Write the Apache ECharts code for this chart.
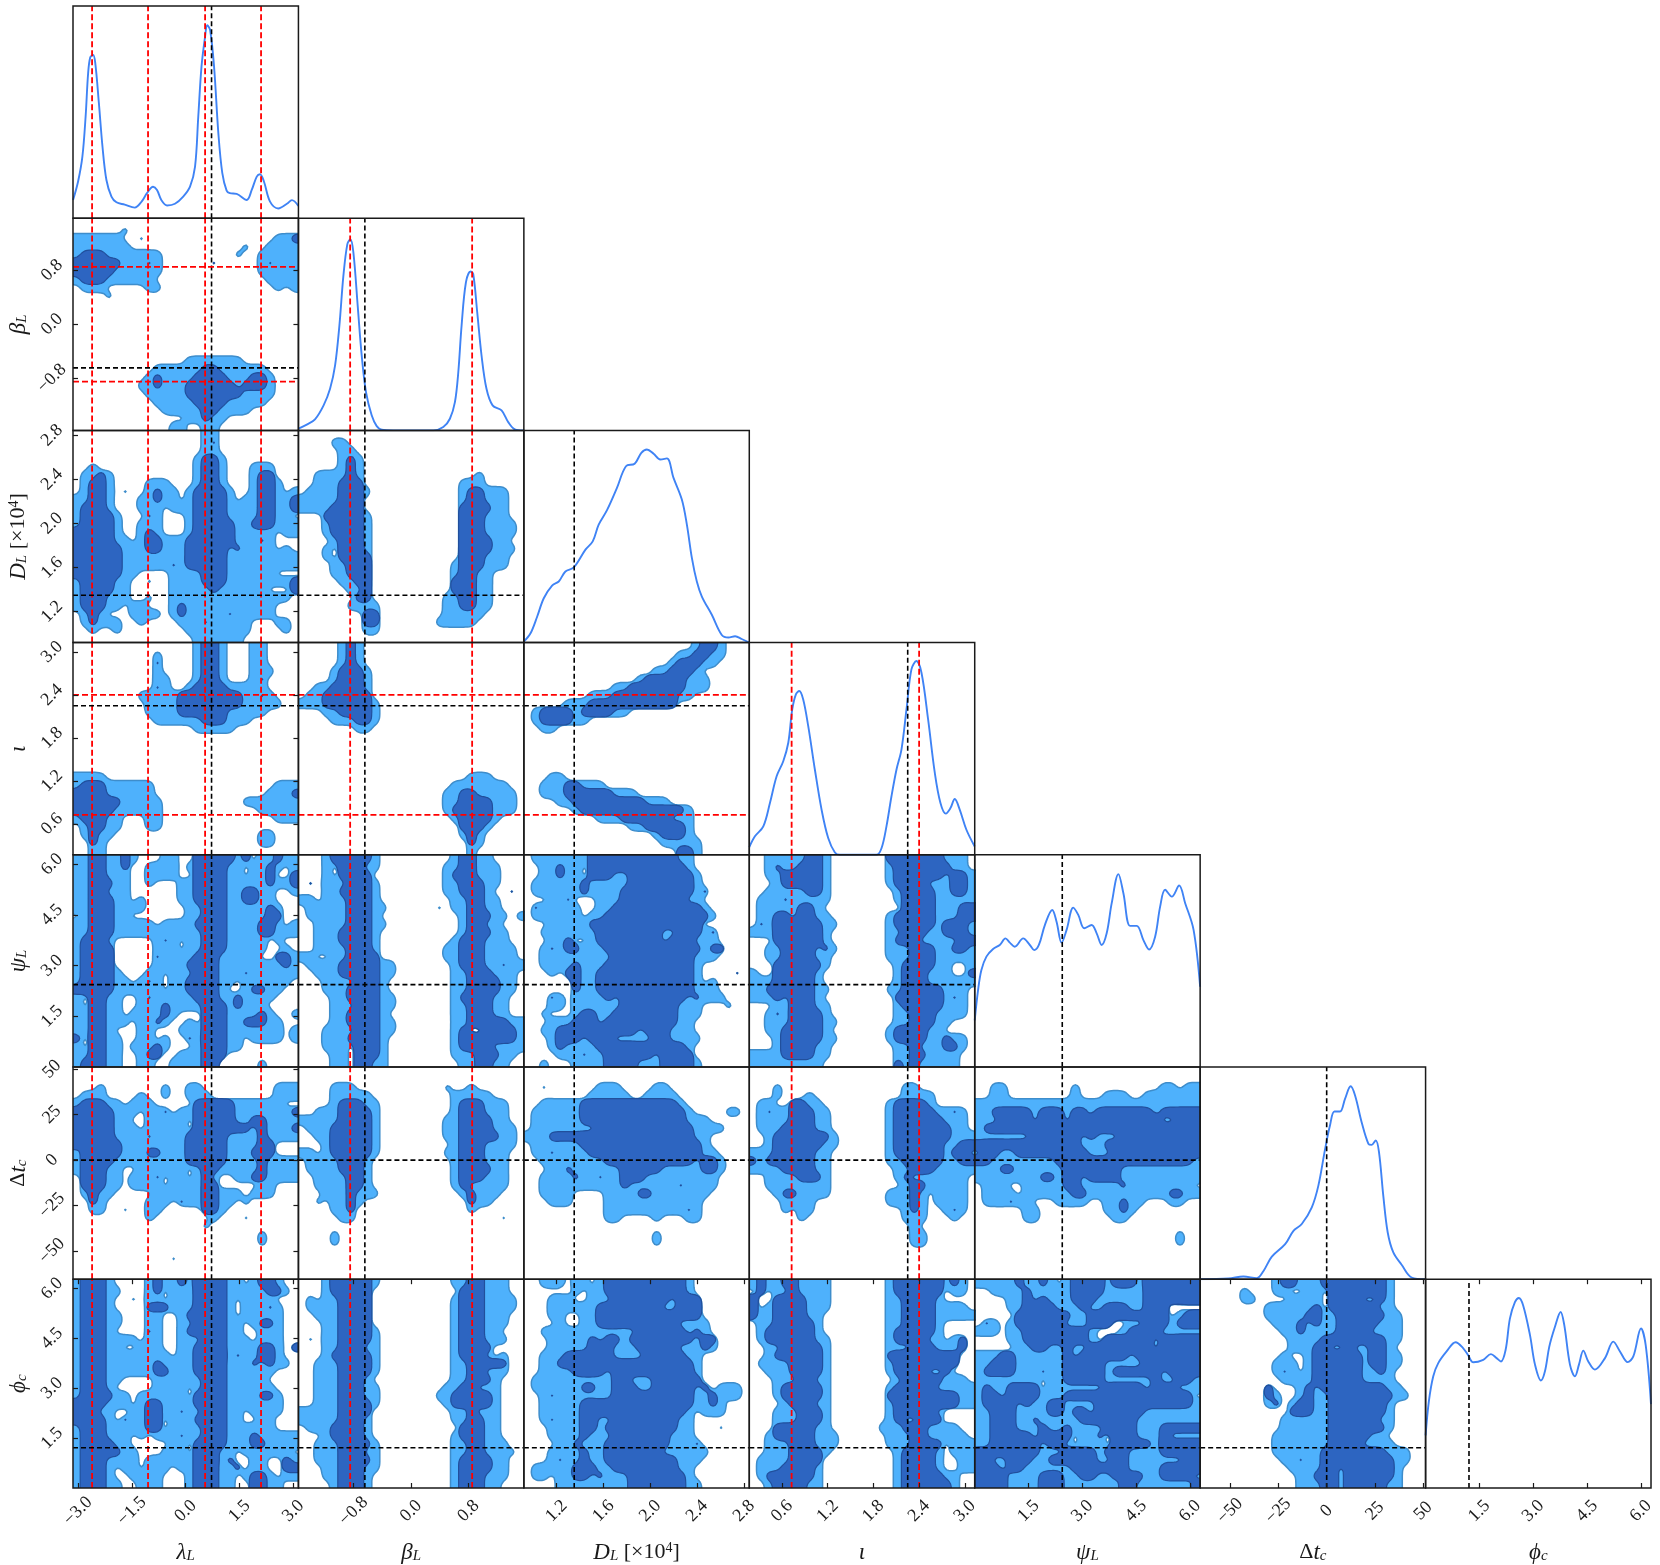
<!DOCTYPE html>
<html><head><meta charset="utf-8">
<style>html,body{margin:0;padding:0;background:#fff}#c{width:1660px;height:1565px}</style>
<script src="https://cdn.jsdelivr.net/npm/echarts@6/dist/echarts.min.js"></script>
</head><body><div id="c"></div>
<script>
// ---------- parameters ----------
const paramRanges = [[-3.1416,3.1416],[-1.5708,1.5708],[0.92,2.845],[0.17,3.13],[0,6.2832],[-65.5,51.2],[0,6.2832]];
const tickValues = [[-3,-1.5,0,1.5,3],[-0.8,0,0.8],[1.2,1.6,2.0,2.4,2.8],[0.6,1.2,1.8,2.4,3.0],[1.5,3,4.5,6],[-50,-25,0,25,50],[1.5,3,4.5,6]];
const tickDecimals = [1,1,1,1,1,0,1];
const axisTitles = ['{i|λ}{s|L}','{i|β}{s|L}','{i|D}{s|L}{r| [×10}{u|4}{r|]}','{i|ι}','{i|ψ}{s|L}','{r|Δ}{i|t}{s|c}','{i|ϕ}{s|c}'];
const redTruth = [[-2.61,-1.05,0.54,2.1],[-0.85,0.85],[],[0.726,2.40],[],[],[]];
const blackTruth = [0.72,-0.645,1.35,2.25,2.44,0,1.21];

// ---------- 1D marginals ----------
const lambdaX = [-3.14,-3.00,-2.88,-2.79,-2.72,-2.66,-2.58,-2.52,-2.42,-2.32,-2.21,-2.07,-1.93,-1.70,-1.42,-1.23,-1.08,-0.91,-0.80,-0.68,-0.52,-0.30,-0.07,0.12,0.26,0.35,0.44,0.54,0.60,0.68,0.79,0.91,1.02,1.14,1.23,1.42,1.70,1.84,1.98,2.07,2.18,2.35,2.58,2.82,2.96,3.14];
const lambdaP = [.086,.173,.29,.479,.683,.758,.769,.73,.542,.338,.18,.102,.075,.064,.05,.078,.118,.148,.133,.086,.06,.068,.102,.149,.243,.479,.714,.856,.909,.887,.714,.40,.212,.13,.118,.115,.086,.133,.196,.207,.173,.078,.046,.068,.085,.058];
const betaX = [-1.57,-1.455,-1.34,-1.22,-1.13,-1.06,-1.0,-.944,-.889,-.847,-.805,-.745,-.689,-.629,-.55,-.48,-.41,-.25,.31,.448,.54,.61,.657,.703,.763,.828,.865,.921,.981,1.05,1.135,1.26,1.353,1.445,1.57];
const betaP = [.008,.027,.052,.118,.196,.306,.494,.729,.878,.901,.839,.588,.353,.18,.071,.02,.003,0,0,.016,.055,.133,.274,.494,.697,.749,.737,.556,.353,.196,.118,.094,.039,.005,0];
const distX = [.92,.977,1.034,1.09,1.161,1.218,1.275,1.346,1.446,1.508,1.559,1.63,1.715,1.792,1.866,1.923,1.971,2.028,2.085,2.142,2.198,2.269,2.312,2.355,2.397,2.44,2.525,2.61,2.667,2.724,2.78,2.845];
const distP = [.005,.044,.123,.209,.269,.288,.335,.354,.438,.477,.556,.624,.729,.831,.843,.894,.91,.89,.863,.868,.776,.674,.556,.398,.288,.217,.131,.036,.024,.03,.017,0];
const iotaX = [.17,.244,.354,.441,.529,.616,.682,.734,.782,.826,.878,.944,1.031,1.119,1.206,1.294,1.359,1.84,1.906,1.971,2.037,2.103,2.168,2.234,2.299,2.365,2.431,2.518,2.606,2.68,2.75,2.811,2.868,2.933,3.021,3.13];
const iotaP = [.036,.087,.134,.244,.37,.441,.528,.685,.756,.772,.732,.606,.402,.213,.079,.011,0,0,.031,.134,.276,.402,.496,.685,.874,.913,.858,.638,.386,.244,.194,.22,.263,.213,.118,.039];
const psiX = [0,.093,.186,.326,.512,.698,.857,.978,1.117,1.35,1.536,1.657,1.788,1.955,2.16,2.281,2.421,2.56,2.747,2.886,3.054,3.259,3.399,3.538,3.678,3.818,4.004,4.144,4.33,4.516,4.702,4.86,5.028,5.168,5.307,5.493,5.698,5.866,6.1,6.283];
const psiP = [.22,.362,.457,.52,.556,.575,.606,.586,.567,.606,.575,.551,.575,.669,.74,.685,.586,.646,.751,.717,.654,.669,.63,.575,.63,.772,.909,.819,.665,.665,.598,.554,.614,.756,.835,.803,.855,.772,.646,.378];
const dtX = [-65.5,-50.8,-43.1,-36.2,-32.7,-28.4,-21.5,-17.2,-12.9,-7.7,-4.3,-0.8,1.7,4,6.9,9.5,12.4,14.7,18.1,21.6,23.3,25.4,27.1,29.3,31.6,34.5,38.8,44,51.2];
const dtP = [0,.003,.013,.005,.039,.106,.165,.228,.26,.339,.441,.614,.724,.79,.79,.85,.909,.866,.74,.638,.633,.654,.598,.394,.22,.126,.068,.008,0];
const phiX = [0,.093,.214,.353,.586,.836,1.05,1.19,1.33,1.608,1.822,1.98,2.1,2.23,2.35,2.49,2.6,2.72,2.91,3.05,3.216,3.327,3.448,3.606,3.764,3.866,4.024,4.163,4.275,4.396,4.535,4.721,5.0,5.232,5.418,5.632,5.79,6.004,6.134,6.283];
const phiP = [.252,.417,.535,.598,.654,.698,.669,.635,.602,.614,.641,.622,.606,.661,.811,.89,.91,.874,.732,.591,.515,.559,.677,.772,.843,.78,.591,.535,.591,.658,.606,.567,.622,.701,.654,.603,.63,.764,.685,.402];
const marginals = [[lambdaX,lambdaP],[betaX,betaP],[distX,distP],[iotaX,iotaP],[psiX,psiP],[dtX,dtP],[phiX,phiP]];

// ---------- 2D credible-level maps: rows top to bottom, 28 cells wide.
// o = inside outer level, # = inside inner level, . = outside; tokens apply in order.
const betaLambda = ["","o6","o0-5 o8 o25-26 #27","o0-6 o21 o24-27","o0-10 #1-3 o20 o23-27","o0-10 #0-5 #9 #17 o23-27 #24","o0-10 #0-4 o23-27","o0-9 #1-3 o24-27","o1-3 o9-10 o25 o27","o4","","","","","","","","o14-20","o10-23 #16-17","o9-24 #10 #15-18 #22-23","o8-24 #10 #14-19 #21-23","o9-24 #14-19 #20","o10-23 #15-18","o11-21 #16-17","o14-18 #16","o12-13 o16-17"];
const distLambda = ["o16-17","o16-17 #17","o16-17","o15-18 #16-17","o2 o15-18 #16-17 o22-24","o1-4 #3 o15-18 #16-17 o22-24 #23-24","o1-4 #2-3 o9-11 o15-18 #16-17 o22-25 #23-24","o1-4 #2-3 o6 o9-12 #10 o14-19 #15-18 o22-25 #23-24 o27","o0-4 #2-3 o8-12 #10 o14-19 #15-18 o21-25 #23-24 o26 #27","o0-4 #1-3 o8-25 .11 #15-18 #23-24 o26 #27","o0-5 #1-4 o9-10 #9 o14-26 .24 #15-18 #23-24","o0-5 #1-4 o8-10 o14-27 #15-19 #22-24","o0-5 #0-4 o8-10 #9 o14-24 #15-19 o26-27","o0-6 #0-4 o8-24 #9-10 #14-18 #19 #23","o0-24 #0-5 #9-10 #14-18 #20 .21 o26","o0-27 #0-5 #14-18","o0-27 #0-5 #12 #14-18","o0-7 #0-5 o12-24 #16-18 .19","o0-6 #1-4 o9 o12-26 #16-18 #27","o0-6 #1-4 o12-23 #17 #27","o0-6 #1-3 o9 o12-26","o0-5 #1-3 o7-8 o12-24 #13","o1-3 #2 o7-10 o12-24 #13 #19","o1-5 #2 o8 o13-21 #16 o25-26","o2 o5 o14-21 o26","o15-20"];
const distBeta = ["","o4-5","o5-6","o5-7 #6","o5-7 #6","o2-7 #6 o22","o2-7 #5-7 o20-22","o1-8 #5-7 o20-25 #21-22","o0-7 #5-7 o20-25 #21-22","o0-7 #4-7 o20-25 #20-22 #23","o3-8 #3-7 o20-25 #20-22 .24","o3-8 #4-7 o20-26 #20-22","o3-8 #4-7 o20-26 #20-22","o4-8 #5-7 o20-25 #20-23","o3 o5-8 #5-7 o20-26 #20-23","o3 o5-8 #5-8 o20-25 #20-22","o4-8 #6-8 o19-25 #20-22","o4-8 #6-8 o19-23 #20-21","o5-8 #7-8 o19-23 #19-21","o6-8 #8 o19-23 #19-21","o7-8 #7-8 o18-23 #20-21","o6-9 o18-23 #20-21","o8-9 #8-9 o18-22","o8-9 #8-9 o17-21","o8-9",""];
const iotaLambda = ["o15-18 #16-17 o22-23","o15-18 #16-17 o10 o22-23","o10 #10 o15-18 #16-17 o22-23","o10 o15-18 #16-17 o22-24","o10-11 o15-18 #16-17 o22-23 #23","o10-11 #10 o14-21 #15-18 o22-23","o8-24 #13-20 #23","o9-25 #13-20","o9-23 #13-18","o10-21 #16-18","o15-19","","","","","","o0-3","o0-9 #1-3 o25-27","o0-9 #0-3 o24-27 #27","o0-10 #0-5 .8 o21-27","o0-10 #0-4 o23-27","o0-5 #1-3 o9-10 o25-27","o1-5 #2-3 o9-10","o1-4 #2 o23-24","o2-3 #2 o23-24","o2-3"];
const iotaBeta = ["o5-7 #6","o5-7 #6","o5-7 #6","o4-8 #5-7","o4-8 #5-7","o2-8 #4-7","o1-8 #3-8","o0-9 #3-8","o3-9 #5-8","o4-9 #7-8","o7-8","","","","","","o21-23","o19-25","o18-26 #20-21","o18-26 #20-23","o18-26 #19-23","o19-24 #20-23","o20-23 #20-22","o20-22 #21","o21-22 #21","o21"];
const iotaDist = ["o21-24 #22-23","o19-24 #21-22","o18-23 #19-21","o16-21 #18-20","o14-22 #15-19","o11-22 #13-19","o8-20 #11-18","o5-18 #8-18","o1-12 #2-5 #7-10","o1-7 #2-5","o2-3","","","","","","o3-4","o2-9 #5-6","o2-13 #5-10","o4-17 #6-14","o6-20 #7-17 #18-19","o9-20 #12-17","o13-20 #15-19","o16-20 #17-19","o17-21","o19-21 #19-20"];
const psiLambda = ["oo##oo#o...oo..#####o#.oo#ooo","oo##oo#..oooo.o####oo.oo#o.o","oo##ooo..oooo..####oo.oo#..#","oo###oo..o...oo####.oooo#oo#","oo##ooo......oo####oo##oo..o","o.###oo.o....oo####oo##oo...","oo###o.oo.....oo###ooooo#o..",".o###oo.......oo###oo.oo##..","oo###ooooo.oooo####o.oo##o.o","oo###ooooooooooo###oooo##.oo","o###o.....o#o.oo###o.ooo.o..","o####.....o.o.oo###.oooo..o.","o####.....#oooo###ooooo..##o","o####.....oooo####ooooooo.#o","o####o...oo.ooo###ooo#oooooo","o####oo.o#o.oo####oo.oo.ooo.","#####oooooo.oo####o..o##oo..","o.##oo..o#oooo.###oo#oo.o...","o.##oo..ooo#oooo###o#ooo....","oo##oo.oooo#o...###oooo#o..o","oo##ooo.oo#o..o.###oo###oo..","oo##o...oo...ooo###o.ooooo.o","#.##oo..oo.o..#o###oo.oooo.o","o.##oo.ooo#o...o###oo.......","oo##oo..o##..ooo###.........","o###oo..oo..oooo##.....o...."];
const psiBeta = ["...o#####o.........o##oo....","...o.###oo........oo##ooo...","...o.####.........o###ooo...",".#.oo.###o........oo###oo...","...oo####o........oo###o..#.","oo.ooo###o.........oo##oo...",".oo.oo###oo......o.oo##oo...",".o.ooo###o..........o###oo.o","..oooo###oo.........o##oo...","..ooo####o..........o###oo..","..ooo####o.........o###ooo..","..oooo###o........oo###oooo.","oo..oo####........oo###o.oo.",".oooo#####oo.......o###oo#oo","..ooo#####oo.......oo###ooo.","...oooo###o........oo####oo.","...ooo####o........oo####oo.","....oo####oo.......o####oo..","....oo.###oo.......oo###oo..","....oo####o........oo###oo..","....oo####oo.......o.#####oo","...ooo.###oo.......o#..####o","...ooo####o........o###.###o","...ooo.###o........o####oooo","....oo.###o........oo.###oo.","....oo.##oo.........oo##oo.."];
const psiDist = ["o1-6 #8-18 o7 o19-20","o2-6 #4 o8-20 #8-11 #12-19","o2-6 #4 .5 o6 o8-21 #8-10 #13-20","o1-6 #7 o8-21 #13-20","o1-6 #7 o8-22 #12-20 #22","o3-5 #5 o9-21 #12-19","o1-2 #1 o4-6 o9-22 #11-21","o1-3 o5-6 o8-23 #10-22","o3-7 #8-16 o17-21 #17-21","o2-7 o8-23 #9-16 #19-21 #23","o3-5 #5 o8-23 #9-15 #16 #18-20","o2-6 #3 #5-6 o7-24 #10-21 #23-24","o2-5 o6-23 #11-20","o2-4 o5-21 #6 #10-20","o3 o5-21 #5-6 #9-20 #26","o6-21 #6 #9-20 o23","o6-22 #6 #9-12 #14-20 o23","o3-4 #3 o6-24 #10 #12-14 #15-19 #21","o3-4 o6-21 #12-14 #15-18 .20 o25","o2 o6-21 #7-8 #11-13 #14-18","o3-20 #6-8 #10-13 #14-18","o2-20 #4-6 #7-9 #10-13 #15-17","o3-21 #4-6 #8-10 #16-17","o3-20 #4 #9-14 #15-19","o4-20 #7 #10-14 #15 #17-20","o2 o6-21 #10-13 #17-20"];
const psiIota = ["o2-9 #7-8 o17-26 #17-23","o2-9 #3 #6-8 o17-26 #18-24","o2-9 #4-8 o17-27 #18-23 #25-26","o3-9 #4-5 #6-8 o17-27 #18-21 #25-26","o2-9 #7-8 o18-27 #19-22 #25-26","o1-9 #4 o18-27 #19-22","o1-8 #6-7 o19-27 #19-22 #26-27","o1-9 #3-4 #6-7 o17-27 #18 #20-22 #26-27","o1 #1 o3-10 #3-8 o17-27 #18 #19-22 #24-26","o0-2 o3-9 #3-8 o17-27 #19-21 #24-26","o3-9 #3-8 o17-27 #18-20 #26-27","o2-10 #4-7 #9 o17-27 #20-22 #25-26","o2-9 #4 #6-7 o17-24 #20-22 o25-27","o3-9 #3-8 o18-24 #19-22 o27","o0 o3-8 #3-7 o18-24 #19-21 #27","o0-1 o2-8 #3-7 o18-24 #19-21 o25-27","o0-1 o2-9 #2-7 o17-24 #19-23 o25-26","o0-1 o2-8 #3 #5-7 o18-24 #18-23 o25-26 #25","o3-9 #5-7 o18-24 #19-23 o25-26","o2-9 #3 #5-8 o18-24 #20-22 o25-26","o2-10 #5-8 o18-24 #20-22","o2-9 #4-8 o17-23 #18-21","o3-10 #4-8 o17-23 #18-21 o24-26 #24","o3-9 #4-7 o18-23 #20 o24-26 #24-25","#1 o0-2 o4-9 #4-7 o18-24 #20-21 o24-25","#1 o0-2 #4-7 o3-8 o18-24 #18 #20 o24-25"];
const dtLambda = ["","","o3 o11 o14-15 o25-27","o1-3 o8 o11 o14-16 o25-27","o0-5 #1-3 o7-8 o9 o15-25 #15-19","o0-7 #0-4 o9-11 #11 o13-27 #15-19 #27","o0-6 #0-4 o9-13 o15-27 #15-19 #22-23","o0-7 #0-4 o9-13 o15-27 #15-21 #23 #27","o0-27 #0-4 #9 #14-18 #23","o0-27 #0 #2-5 #14-18 #23-24 .25-27","o0-24 #1-5 #9-10 #14-18 #22-24","o0-27 #1-4 #14-18 #23","o0-5 o8-27 #1-3 .12 .14 #16-17 #23","o1-5 #1-3 o7-27 #10 .11 .14 #16 .18-19 #22-23","o1-5 #1-3 o7-10 o12-17 #16-17 #23 o23-24","o1-4 #2 o10-12 o13-19 #16-17 o19-20 o22-24","o2-3 #2 o9-11 o13-19 #13 #16-17 o21","o2-3 o6 o9-10 o16-18 #16-17","o9 o17 o21","o16","o23","o23","","o12","",""];
const dtBeta = ["","","o4-6 o18 o21","o4-8 o19-23","o4-9 #5-7 o19-25 #20-22","o2 o3-9 #5-8 o19-25 #20-22","o0-1 o3-9 #5-8 o18-25 #20-23","o1-9 #4-8 o18-26 #20-23","o2-9 #4-8 o18-26 #20-24","o3-9 #4-8 o19-26 #20-22 .24","o0-1 o3-9 #4-8 o18-25 #20-22","o1-8 #5-7 o19-25 #20-22","o1-2 o4-8 #5-7 o19-25 #20-23 .24","o2-8 #6-7 o19-25 #20-22","o2-8 #6-7 o19-25 #20","o3-9 #6 o20-24 #21","o2 o4-7 #6 o21-23 #21","o4-6 #6 o21","o5-6 o25","","o4","o4","","","",""];
const dtDist = ["","","o2 o9-11 o16-17","o8-12 o15-18","o2-19 #7-18","o1-20 #7-19 o25-26","o1-22 #7-19","o1-24 #9-20","o0-22 #3-20","o1-22 #7-20 #21","o1-23 #8-21 #3","o2-24 #10-11 #12-20 #22-23","o3-24 #5 #12-16 #22-23","o2-23 #6 #9 #12-14","o2-3 o5-23 #12 #19 .11","o2-5 o10-22 #14-15 .12 .17","o3-5 o10-21","o10-21 #20","o10-11 o20-21 o16","","o16","o16","","","",""];
const dtIota = ["","","o3 o19-20","o3 o7 o19-22","o1-2 o5-8 #5-6 o17-22 #18-21","o1-9 #2 #5-7 o17-26 #18-22 #25","o1-9 #5-7 o17-26 #18-23","o1-9 #4-7 o17-26 #18-24","o2-10 #3-9 o17-27 #18-24","o2-10 #3-8 o17-27 #18-23 #26-27","o0-9 #3-7 o17-27 #18-23 #25-26","o0-9 #0 #2-7 o17-23 o24-27 #19-23 #26-27","o0-1 o3-9 #4-7 o18-23 o25-27 #20-22","o2-9 #6-8 o18-24 o25-26 #19","o2-9 o19-22 #20-21 o24-26","o3-9 #4-5 o17-21 #20 o23-26","o4-7 o17-21 #20 o23-26","o4 o6 o7 o19-21 #20 o24-26 #25","o6 o19-21 o25","o20","o20-21","o20-21","","","",""];
const dtPsi = ["","","o2-3 o12 o23-24 o26-27","o2-3 o12 o16-18 o21-27","o0-27","o0-1 #2-6 o7 #8-10 o11 #12-13 o14 #15-21 o22 #23-27","o0-2 #3-6 o7 #8-10 o11 #12 o13 #14-27 o23-24","o0 #1-6 o7 #7-11 #12 #13-27","o0 o1-6 #7-12 o13 #14-27 o15-17","#0-7 #8-12 o13-15 #16-17 #18-27","o0 #1-2 o3-4 #5-6 #7-9 #10-13 o14-16 #17-27","#0-1 o2-9 #10-13 #14-26 o27","o0-10 #3-4 #11-12 #13-17 .18 o19-27","o0-10 #8-9 #11-12 #14-17 o18-27","o1-3 .4-5 o6-12 #11-12 o13-20 #18 o21-26","o1-4 o6-9 o10-27 #12-13 #24-25","o1-2 o3-4 #4 o5-6 o10-13 o16-20 #18 o24-25","o6-7 o16-19 #18","o6-7 o17-18","","o25","o25","","","",""];
const phiLambda = ["o###o....o#oo#o####oo.o##o..","o###oo...o#.oo.####ooo.o##o.","o###o..o.oo.ooo####o.oooo...","o###o....###ooo####o.ooo#o..","o###oo...oo..o#####o.ooooo..","o###oo...oo..o.####oo.o##o..","o###o....#o..o#####oo..ooo..","o###oooo.oo..ooo###o.o.ooo..","o###oo..ooo..oo####oo.o##o.#","o###oooooooo.oo####o#oo##o..","o###oooooo#oooo####ooo#.#oo.","o###oooooo##ooo####o.oooo...","o###oo....oooooo###oo.oo....","o###o.....oooo.o###.oo.oo...","o####oo.ooo.oo.####oooo##o..","####ooo.o##o.oo####o.oo.oo..","###oo..oo##oo#oo###oo.oo.o..","####o.#.o##.ooo####.o..oo...","o###ooooo##.oooo###o.oooo...","o###ooo.o.ooo#oo###oo.#ooooo","o####oo.....oo.####ooo##oooo","o#####oo...ooo.###oo.o.oooo.","o###oooo.oo.ooo###o#..oo..#o","o###o.oo.ooo.o.###oo#.oo..##","o###o..oooo...o###oo.o##o.oo","o###oo..ooo...o###oo..##oo.."];
const phiBeta = ["o3-9 #4-8 o19-25 #21-22","o3-8 #4-8 o20-25 #20-22","o1 o3-8 #5-8 o19-24 #20-22 o25-26","o1-2 o3-8 #5-8 o19-23 #20-22 o24-26","o2 o3-8 #5-8 o19-25 #20-22","o3-8 #5-8 o19-25 #20-22","o3-9 #5-8 o19-24 #20-22","o1 o3-9 #5-8 o19-24 #20-22 o25","o3-9 #5-7 o19-23 #20-23","o3-9 #4-8 o19-23 #20-22 o25","o2-9 #5-8 o19-25 #21-23 #24-25","o2-9 #5-8 o19-24 #21-22 o25","o2-8 #5-7 o19-24 #21-23","o2-9 #5-7 o18-24 #20-21","o2-9 #5-7 o17-24 #19-23","o2-9 #5-8 o18-24 #19-20 #22-23","o0-1 o2-8 #5-8 o19-24 #21","o0-8 #5-7 o19-24 #21-22","o1-8 #4-7 o20-24 #20-22","o3-8 #4-7 o19-24 #20-22","o2-9 #5-8 o19-25 #21-22","o2-9 .3 #5-7 o19-26 #21-22 .25","o2-9 #5-7 #8 o19-25 #20-23","o3-9 #5-7 o19-25 #20-23","o3-8 #5-7 o19-25 #20-22","o4-8 #5-7 o19-24 #20-22"];
const phiDist = ["o2-4 o6-7 o9-20 #10-19","o6 o8-20 #10-19","o3-5 o8-20 #11-17 .18 #19-21","o3-5 o6-21 #9-11 #12-16 #19-21","o3-4 o7-21 #9-15 #16-18 #19-21","o4 o7-22 #9-14 #15-18","o2-6 o8-22 #14-19 #21","o3-5 o7-23 #8 #10-11 #13-20 #22-23","o3-6 o7-23 #8-9 #10 #14-18 #22","o2-21 #5-8 #8-10 #15-19","o2-21 #4-6 #6-10 #11-20","o2-21 #6-9 #11-20","o1-21 #11-12 #16-21 .5","o1-21 #7-8 #11-13 #16-20 o22 #22 o24-26","o2-21 #3 #11-14 #15-20 o22-23 #23 o25-26","o2-21 #7-9 #10-20 o22-24 #23","o2-20 #7-10 #11-19 o22-24","o2-20 #3 #7-8 #11-14 #15-18","o3-20 #7-8 #10-18 o24","o3-20 #7 #11-17","o4-21 #6 #10-17 #21","o3-22 #7 #10-16","o3-21 #4 #7 #10-18","o1-2 o3-20 #6-8 #11-18","o1-2 o4-20 #6-7 #9 #13-19","o4-21 #13-19"];
const phiIota = ["o0-2 #1 o3-9 #4-5 o17-26 #18-23 #25","#1 o3-9 #5 o17-23 #18-23 o25-26","#0 o3-9 #3-4 #5-6 o17-23 #19-22","#0 o2-9 #3-4 #5-6 o17-24 #19-22 o25-26","#0 o1-8 #3-4 #5-6 o17-24 #19-22 o25-27","o1-8 #3 #5-7 o17-23 #19-22","o1-8 #2-4 #5-7 o17-23 #18 #20-22","o1-9 #2-5 #5-7 o17-22 #18-19 #21 o23 o25-26 #26","o2-9 #4 #5-8 o17-26 #20-22 #26","o2-9 #3-5 #5-8 o17-25 #17-23 #24-25","o1-9 #5-8 o17-24 #18-23 o25 #25","o2-9 #5-8 o17-24 #18-21 #24","o3-9 #6-7 o18-26 #19-21 #22-23","o3-9 #4-8 o17-27 #18 .19 #20-22","o3-9 #4-8 o17-27 #17-19 #20-25","o4-9 #5-7 o17-27 #18-20 #21-25","o3-9 #6-8 o17-23 #18-22","o3-9 #6-8 o17-22 #18 #21-23","o3-9 #3-5 #6-7 o16-22 #19-21 o24-25","o2-10 #3-5 #6-7 o17-23 #20-21 o24-26","o2-10 #5-7 o17-23 #20-23 o25-27","o2-9 #5-8 o18-23 #19-22 o25-27","o1-8 .3 #5-8 o18-23 #19-22 o26-27","o1-8 #4-7 o18-23 #19-20 #21-22 o26-27","o1-8 #2-7 o18-25 #19-20 #21-23","o2-8 #3-6 o18-25 #19-21 #21-24"];
const phiPsi = ["o0-27 #5 #8 .10 #12-15 #17-19 #21-27","o2-27 #6 #12-15 .17 #21-27","o4-27 #6 #8 #12-14 .16 #21-22 .23 #24-27","o4-27 #6-9 #13 #16-18 #21-23 .24-27","o5-27 #5-8 #9-11 #14-18 #19-20 #22-23 .24 #26-27","#1 o2 o4-27 #5-6 #8-10 #14-16 .17-18 #21-23 #25 #26-27","#1 o0-2 o4-27 #6-7 #9-13 .15-17 #19-21 #22","o4-27 #6-9 #10-13 .15-16 #16-18 #20-21 #23-27","o5-27 #7-8 #11 #14-19 #20-21 #23-27","o0-27 #3-4 #11 #13-18 #20-27","o0-27 #2-4 .7 #11-15 #21-27","o0-27 #1-4 #8 #11-15 #17-22 #24-27","o0-27 .8 #11-15 .17 #22 #25-26","o0-27 #1 #4-7 .8 .10 #16-20 #22-24","o0-27 #1-2 #4-7 #11-13 #14-20 #21-23 #24-26 .27","o0-27 #1-4 #6 #9-10 #15-18 #20-26","o0-27 #2-4 .6 #9-10 #12-13 #15-20","o0-27 #2-4 #7 #13-14 #15-19 .21 .24","o0-27 #2-4 .6 #8 #11 .16 #16-19 #23-24 #25-27","o0-27 #2-3 #4-6 #8-10 #11 .12 #15 .16 #17-19 .21 #23 .25","o0-27 #2-7 #9-10 .12 .16 #17-21 #23-27","#0-2 o3-27 #3-7 #11-14 #16-18 #23-27","#0-1 o2-27 #4-6 #9-10 #11-14 #17-18 .21 #26-27","#0-2 o3-27 #4-5 #12-15 #16-18 .20 #23-27","#0-3 o4-27 .6 #8-10 #13-14 #17 #19-20 #23-26","#0-3 o4-27 #8-10 #18-19 #27"];
const phiDt = ["o9-14 #10-11 #15-22 o23","o5 o9-10 o13-14 #16-22 o23","o5-6 o11-14 #16-18 #19 o20-21 #22 o23","o8-14 #14 #16-21 o23","o8-15 #13-14 #17-22 o23-24","o9-16 #12 #14 #17-21 o22-24","o10-24 #12 #17-20","o11-24 #15-22","o11-23 #14-22 o16-17 o19-20","o10 o13-24 #14-19 #21-22","o9-11 o13-24 #14-19 #21-22","o9-11 #10 o13-23 #14-19 #22","o10-23 #14-19","o8 #8 o12-24 #13 #15-22","o8-9 #8 o12-25 #13 #16-23","o8-9 #9 o11-23 #12-13 #16-22","o11-23 #11-13 o15 #16-22","o10-23 .14 #16-21","o10-23 #16-22","o9-22 .11 #16-20","o9-23 #16-19","o9-25 #15-22","o10-25 #12 #15-23","o11-24 #15-16 #18-23","o12-24 #14-16 #18-23","o12-24 #15-16 #18-22"];

// [row, column, cells]
const densityMaps = [[1,0,betaLambda],[2,0,distLambda],[2,1,distBeta],[3,0,iotaLambda],[3,1,iotaBeta],[3,2,iotaDist],[4,0,psiLambda],[4,1,psiBeta],[4,2,psiDist],[4,3,psiIota],[5,0,dtLambda],[5,1,dtBeta],[5,2,dtDist],[5,3,dtIota],[5,4,dtPsi],[6,0,phiLambda],[6,1,phiBeta],[6,2,phiDist],[6,3,phiIota],[6,4,phiPsi],[6,5,phiDt]];

// ---------- contouring ----------
const NC = 28, NR = 26, PAD = 3, UP = 4;
function parseRows(rows){
  const m = [];
  for (let j=0;j<NR;j++){
    const line = new Array(NC).fill(0), s = rows[j]||'';
    if (/^[.o#]+$/.test(s)){
      for (let i=0;i<NC&&i<s.length;i++) line[i] = s[i]==='#'?2:(s[i]==='o'?1:0);
    } else {
      const re=/([.o#])(\d+)(?:-(\d+))?/g; let t;
      while((t=re.exec(s))){
        const a=+t[2], b=t[3]==null?a:+t[3], v=t[1]==='#'?2:(t[1]==='o'?1:0);
        for(let i=a;i<=b&&i<NC;i++) line[i]=v;
      }
    }
    m.push(line);
  }
  return m;
}
function field(m,level){
  const W=NC+2*PAD, H=NR+2*PAD;
  const g=[];
  for(let j=0;j<H;j++){const l=[];for(let i=0;i<W;i++){
    if(i===0||j===0||i===W-1||j===H-1){l.push(0);continue;}
    const ci=Math.min(NC-1,Math.max(0,i-PAD)), cj=Math.min(NR-1,Math.max(0,j-PAD));
    l.push(m[cj][ci]>=level?1:0);
  } g.push(l);}
  const UW=(W-1)*UP+1, UH=(H-1)*UP+1, f=new Float32Array(UW*UH);
  for(let j=0;j<UH;j++){const fy=j/UP,y0=Math.min(H-2,Math.floor(fy)),ty=fy-y0;
    for(let i=0;i<UW;i++){const fx=i/UP,x0=Math.min(W-2,Math.floor(fx)),tx=fx-x0;
      f[j*UW+i]=(1-ty)*((1-tx)*g[y0][x0]+tx*g[y0][x0+1])+ty*((1-tx)*g[y0+1][x0]+tx*g[y0+1][x0+1]);}}
  const sigma=0.45*UP,R=Math.ceil(sigma*3),k=[];let sum=0;
  for(let d=-R;d<=R;d++){const v=Math.exp(-d*d/(2*sigma*sigma));k.push(v);sum+=v;}
  for(let d=0;d<k.length;d++)k[d]/=sum;
  const t=new Float32Array(UW*UH),o=new Float32Array(UW*UH);
  for(let j=0;j<UH;j++)for(let i=0;i<UW;i++){let s=0;for(let d=-R;d<=R;d++){const a=Math.min(UW-1,Math.max(0,i+d));s+=k[d+R]*f[j*UW+a];}t[j*UW+i]=s;}
  for(let j=0;j<UH;j++)for(let i=0;i<UW;i++){let s=0;for(let d=-R;d<=R;d++){const a=Math.min(UH-1,Math.max(0,j+d));s+=k[d+R]*t[a*UW+i];}o[j*UW+i]=s;}
  return {f:o,w:UW,h:UH};
}
function loopsOf(F,xr,yr){
  const {f,w,h}=F, th=0.42, next=new Map(), pos=new Map();
  const val=(i,j)=>f[j*w+i];
  const hk=(i,j)=>2*(j*(w+1)+i), vk=(i,j)=>2*(j*(w+1)+i)+1;
  const lerp=(a,b)=>(th-a)/(b-a);
  function edge(name,i,j){
    let k,x,y;
    if(name==='T'){k=hk(i,j);x=i+lerp(val(i,j),val(i+1,j));y=j;}
    else if(name==='B'){k=hk(i,j+1);x=i+lerp(val(i,j+1),val(i+1,j+1));y=j+1;}
    else if(name==='L'){k=vk(i,j);x=i;y=j+lerp(val(i,j),val(i,j+1));}
    else {k=vk(i+1,j);x=i+1;y=j+lerp(val(i+1,j),val(i+1,j+1));}
    if(!pos.has(k))pos.set(k,[x,y]);
    return k;
  }
  const table={1:['BL'],2:['RB'],3:['RL'],4:['TR'],6:['TB'],7:['TL'],8:['LT'],9:['BT'],11:['RT'],12:['LR'],13:['BR'],14:['LB']};
  for(let j=0;j<h-1;j++)for(let i=0;i<w-1;i++){
    const a=val(i,j)>=th,b=val(i+1,j)>=th,c=val(i+1,j+1)>=th,d=val(i,j+1)>=th;
    const idx=(a?8:0)+(b?4:0)+(c?2:0)+(d?1:0);
    if(idx===0||idx===15)continue;
    let segs=table[idx];
    if(idx===5||idx===10){
      const mid=(val(i,j)+val(i+1,j)+val(i+1,j+1)+val(i,j+1))/4>=th;
      if(idx===5)segs=mid?['TL','BR']:['TR','BL'];
      else segs=mid?['RT','LB']:['LT','RB'];
    }
    for(const sg of segs) next.set(edge(sg[0],i,j),edge(sg[1],i,j));
  }
  const toData=(p)=>{
    const cx=p[0]/UP-PAD+0.5, cy=p[1]/UP-PAD+0.5;
    return [xr[0]+cx/NC*(xr[1]-xr[0]), yr[1]-cy/NR*(yr[1]-yr[0])];
  };
  const loops=[], seen=new Set();
  for(const start of next.keys()){
    if(seen.has(start))continue;
    const loop=[];let k=start;
    while(k!=null&&!seen.has(k)){seen.add(k);loop.push(toData(pos.get(k)));k=next.get(k);}
    if(loop.length>2)loops.push(loop);
  }
  return loops;
}

// ---------- layout ----------
const X0=73, Y0=6, W=225.43, H=212.2, N=7;
const serif='"Liberation Serif","DejaVu Serif",serif';
const ink='#1a1a1a';
const grids=[],xAxes=[],yAxes=[],series=[];
const nameStyle={fontFamily:serif,fontSize:22,color:ink,rich:{
  i:{fontFamily:serif,fontStyle:'italic',fontSize:23,color:ink},
  r:{fontFamily:serif,fontSize:22,color:ink},
  s:{fontFamily:serif,fontStyle:'italic',fontSize:15,color:ink,verticalAlign:'bottom',padding:[6,0,0,0]},
  u:{fontFamily:serif,fontSize:14,color:ink,verticalAlign:'top',padding:[0,0,6,0]}
}};
function fmt(v,p){
  const s=Math.abs(v).toFixed(tickDecimals[p]);
  return (v<0?'\u2212':'')+s;
}
function baseAxis(p,g,pos,labelled,title){
  const a={type:'value',gridIndex:g,position:pos,min:paramRanges[p][0],max:paramRanges[p][1],z:6,
    splitLine:{show:false},axisLine:{show:false,onZero:false},
    axisTick:{show:true,inside:true,length:5,customValues:tickValues[p],lineStyle:{color:ink,width:1.2}},
    axisLabel:{show:labelled,rotate:45,margin:(pos==='bottom'?23:21),align:'center',verticalAlign:'middle',fontFamily:serif,fontSize:18,color:ink,customValues:tickValues[p],hideOverlap:false,
      formatter:(v)=>fmt(v,p)}};
  if(title){a.name=axisTitles[p];a.nameLocation='middle';a.nameTextStyle=nameStyle;}
  return a;
}
function hidden(g,range){return {type:'value',gridIndex:g,min:range[0],max:range[1],show:false,splitLine:{show:false}};}
function addDash(xi,yi,data,color){
  series.push({type:'line',xAxisIndex:xi,yAxisIndex:yi,data,showSymbol:false,symbol:'none',silent:true,z:4,animation:false,clip:true,
    lineStyle:{color,width:color==='#000000'?1.6:1.8,type:color==='#000000'?[5,3]:[6,3]}});
}
const mapIndex={};
densityMaps.forEach(d=>{mapIndex[d[0]+','+d[1]]=d[2];});
for(let r=0;r<N;r++)for(let c=0;c<=r;c++){
  const g=grids.length;
  grids.push({left:X0+c*W,top:Y0+r*H,width:W,height:H,show:true,z:5,backgroundColor:'transparent',borderColor:ink,borderWidth:1.5,containLabel:false});
  const xr=paramRanges[c], yr=r===c?[0,1]:paramRanges[r];
  const xi=xAxes.length, yi=yAxes.length;
  if(r===N-1){
    const a=baseAxis(c,g,'bottom',true,true);a.nameGap=53;xAxes.push(a);
    const b=baseAxis(c,g,'top',false,false);xAxes.push(b);
  } else xAxes.push(hidden(g,xr));
  if(c===0&&r>0){
    const a=baseAxis(r,g,'left',true,true);a.nameGap=43;a.nameRotate=90;yAxes.push(a);
    const b=baseAxis(r,g,'right',false,false);yAxes.push(b);
  } else yAxes.push(hidden(g,yr));
  if(r===c){
    const m=marginals[c];
    series.push({type:'line',xAxisIndex:xi,yAxisIndex:yi,data:m[0].map((x,i)=>[x,m[1][i]]),showSymbol:false,symbol:'none',smooth:0.35,silent:true,z:3,animation:false,
      lineStyle:{color:'#3F83F5',width:1.9}});
  } else {
    const cells=parseRows(mapIndex[r+','+c]);
    const l1=loopsOf(field(cells,1),xr,yr), l2=loopsOf(field(cells,2),xr,yr);
    series.push({type:'custom',xAxisIndex:xi,yAxisIndex:yi,data:[[xr[0],yr[0]]],clip:true,silent:true,z:2,animation:false,
      renderItem:(params,api)=>{
        const path=(ls)=>ls.map(lp=>lp.map((p,i)=>{const q=api.coord(p);return (i?'L':'M')+q[0].toFixed(1)+' '+q[1].toFixed(1);}).join('')+'Z').join('');
        return {type:'group',children:[
          {type:'path',shape:{pathData:path(l1)},style:{fill:'#4EB1FC',stroke:'#3E8DCB',lineWidth:1.5}},
          {type:'path',shape:{pathData:path(l2)},style:{fill:'#2D65C1',stroke:'#214F9C',lineWidth:1.2}}
        ]};
      }});
  }
  const red=redTruth[c], bk=blackTruth[c];
  red.forEach(v=>addDash(xi,yi,[[v,yr[0]],[v,yr[1]]],'#ff0000'));
  addDash(xi,yi,[[bk,yr[0]],[bk,yr[1]]],'#000000');
  if(r!==c){
    redTruth[r].forEach(v=>addDash(xi,yi,[[xr[0],v],[xr[1],v]],'#ff0000'));
    addDash(xi,yi,[[xr[0],blackTruth[r]],[xr[1],blackTruth[r]]],'#000000');
  }
}
const chart=echarts.init(document.getElementById('c'),null,{renderer:'canvas'});
chart.setOption({animation:false,backgroundColor:'#fff',grid:grids,xAxis:xAxes,yAxis:yAxes,series});
</script></body></html>
